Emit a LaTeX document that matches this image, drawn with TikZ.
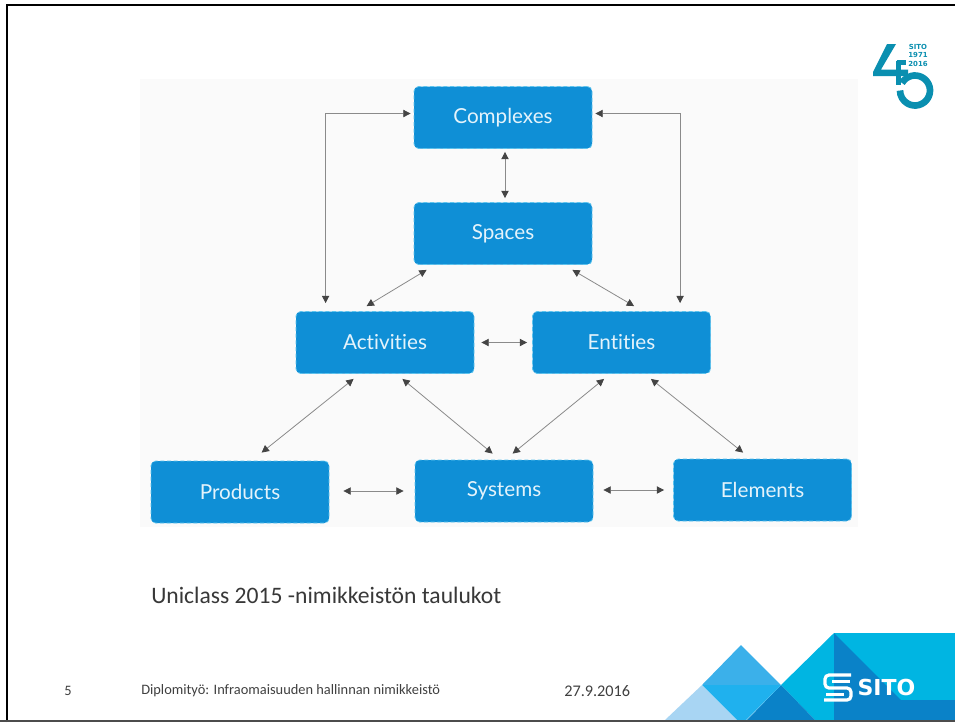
\documentclass[tikz,border=0pt]{standalone}
\usepackage{fontspec}
\setmainfont{Carlito}
\newfontfamily\boxfont[Ligatures=NoCommon]{Lato}
\newfontfamily\logofont{DejaVu Sans}
\usetikzlibrary{arrows.meta,calc}
\definecolor{boxblue}{HTML}{0F8FD6}
\definecolor{boxedge}{HTML}{5CC4EE}
\definecolor{boxtext}{HTML}{E4F3FB}
\definecolor{panel}{HTML}{FAFAFA}
\definecolor{teal45}{HTML}{0A8FB0}
\definecolor{skyA}{HTML}{00B5E2}
\definecolor{skyB}{HTML}{0A82C8}
\definecolor{skyC}{HTML}{3BB0EA}
\definecolor{skyD}{HTML}{1FB1EE}
\definecolor{skyE}{HTML}{A8D5F3}
\definecolor{arrowgray}{HTML}{8A8A8A}
\definecolor{tipgray}{HTML}{444444}
\tikzset{
  box/.style={draw=boxedge,densely dashed,line width=0.6pt,fill=boxblue,rounded corners=3.5pt,
    minimum width=133.5pt,minimum height=46.5pt,inner sep=0pt,text=boxtext,
    font=\boxfont\fontsize{15.5}{18}\selectfont},
  link/.style={draw=arrowgray,line width=0.6pt,{Triangle[length=5.5pt,width=5.5pt,color=tipgray]}-{Triangle[length=5.5pt,width=5.5pt,color=tipgray]}},
  foot/.style={anchor=west,inner sep=0pt,text=black!75,font=\fontsize{10.8}{13}\selectfont},
  frameline/.style={draw=black,line width=1.9pt},
  logostroke/.style={draw=teal45,line cap=butt,line join=miter}
}
\begin{document}
\begin{tikzpicture}[x=0.75pt,y=-0.75pt]
\useasboundingbox (0,0) rectangle (955,722);
\fill[white] (0,0) rectangle (955,722);
% frame
\draw[frameline] (7,722) -- (7,5) -- (955,5);
% panel
\fill[panel] (140,79) rectangle (858,527);
% boxes
\node[box] (complexes) at (503,117.5) {Complexes};
\node[box] (spaces) at (503,233.5) {Spaces};
\node[box] (activities) at (385,342.5) {Activities};
\node[box] (entities) at (621.5,342.5) {Entities};
\node[box] (products) at (240,492) {Products};
\node[box] (systems) at (504,491) {Systems};
\node[box] (elements) at (762.5,490) {Elements};
% connectors
\draw[link] ([shift={(-3,-4)}]complexes.west) -| ([shift={(30,-8)}]activities.north west);
\draw[link] ([shift={(3,-4)}]complexes.east) -| ([shift={(148,-8)}]entities.north west);
\draw[link] ([shift={(2,3)}]complexes.south) -- ([shift={(2,-4)}]spaces.north);
\draw[link] ([shift={(13,5)}]spaces.south west) -- ([shift={(71,-5)}]activities.north west);
\draw[link] ([shift={(-20,5)}]spaces.south east) -- ([shift={(102,-5)}]entities.north west);
\draw[link] ([shift={(7,0)}]activities.east) -- ([shift={(-5,0)}]entities.west);
\draw[link] ([shift={(58,5)}]activities.south west) -- ([shift={(111,-8)}]products.north west);
\draw[link] ([shift={(-72,5)}]activities.south east) -- ([shift={(78,-6)}]systems.north west);
\draw[link] ([shift={(72,5)}]entities.south west) -- ([shift={(98,-6)}]systems.north west);
\draw[link] ([shift={(-60,5)}]entities.south east) -- ([shift={(70,-6)}]elements.north west);
\draw[link] ([shift={(14,-1)}]products.east) -- ([shift={(-11,0)}]systems.west);
\draw[link] ([shift={(10,-1)}]systems.east) -- ([shift={(-9,0)}]elements.west);
% caption and footer
\node[anchor=west,inner sep=0pt,text=black!78,font=\fontsize{17.7}{21}\selectfont] (caption) at (151,595.5) {Uniclass 2015 -nimikkeistön taulukot};
\node[foot] (pageno) at (64,690.5) {5};
\node[foot] (footer) at (141,690.5) {Diplomityö: Infraomaisuuden hallinnan nimikkeistö};
\node[foot,font=\fontsize{12.2}{14}\selectfont] (date) at (564,691) {27.9.2016};
% 45 logo
\fill[teal45] (887,44) -- (896,44) -- (881,69.5) -- (908,69.5) -- (908,76) -- (873,76) -- (873,72) -- cycle;
\draw[logostroke,line width=3.6pt] (896.5,62.5) -- (906,62.5);
\draw[logostroke,line width=4pt] (898.5,61) -- (898.5,85);
\draw[logostroke,line width=5pt] (902,83) arc[start angle=-150,end angle=180,radius=15];
\foreach \rowy/\rowtext in {47/SITO,55/1971,64/2016}{
  \node[inner sep=0pt,text=teal45,font=\logofont\bfseries\fontsize{5.2}{6}\selectfont] at (918,\rowy) {\rowtext};
}
% corner graphic
\fill[skyA] (834,633) -- (955,633) -- (955,721) -- (816,721) -- (781,685) -- cycle;
\fill[skyB] (834,633) -- (901,700) -- (955,700) -- (955,721) -- (834,721) -- cycle;
\fill[skyB] (781,685) -- (816,721) -- (746,721) -- cycle;
\fill[skyC] (741,645) -- (781,685) -- (702,685) -- cycle;
\fill[skyD] (702,685) -- (781,685) -- (746,720) -- (737,720) -- cycle;
\fill[skyE] (702,685) -- (737,720) -- (665,720) -- cycle;
\draw[draw=black!70,line width=1pt] (0,721) -- (955,721);
% S mark and name
\draw[white,line width=2.4pt,rounded corners=3pt] (851,675) -- (825,675) -- (825,688) -- (851,688) -- (851,700) -- (824,700);
\draw[white,line width=2pt,rounded corners=2pt] (850,681.5) -- (832,681.5);
\draw[white,line width=2pt,rounded corners=2pt] (844,694.5) -- (826,694.5);
\node[inner sep=0pt,text=white,font=\logofont\bfseries\fontsize{16.5}{18}\selectfont] (sito) at (886.5,687) {SITO};
\end{tikzpicture}
\end{document}
